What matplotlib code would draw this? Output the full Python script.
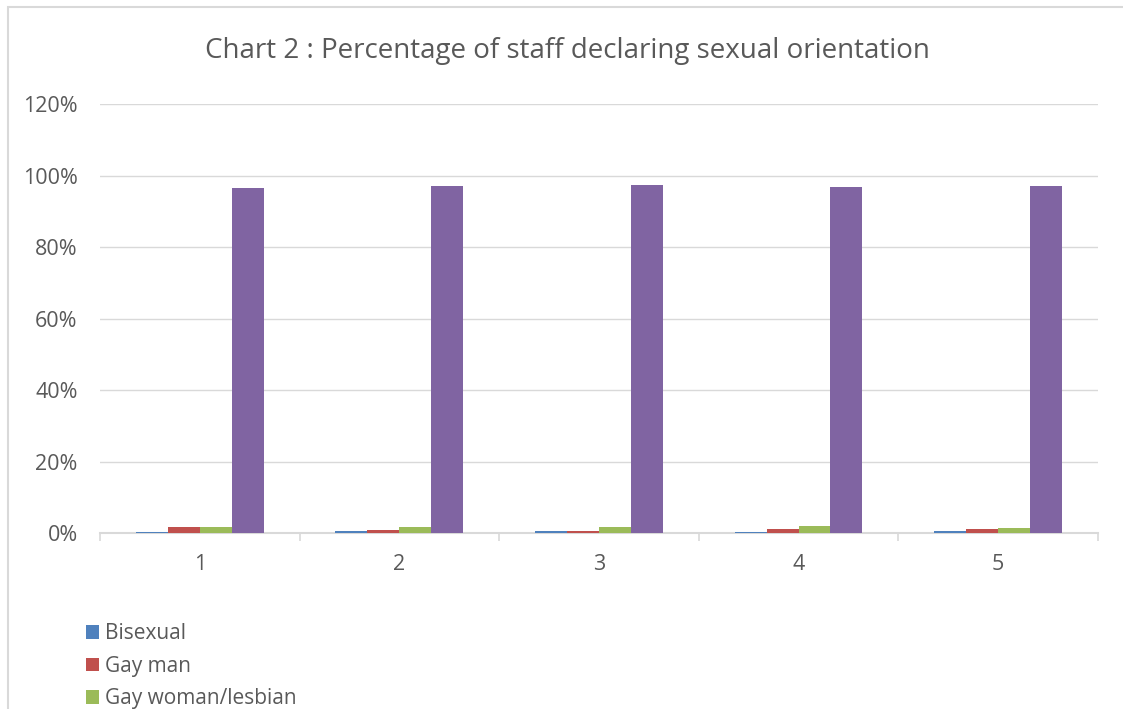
import numpy as np
import matplotlib.pyplot as plt
from matplotlib.patches import Rectangle, Patch

# Share of staff by declared sexual orientation, per year group
years = ['1', '2', '3', '4', '5']
bisexual = [0.2, 0.5, 0.5, 0.4, 0.5]
gay_man = [1.7, 0.8, 0.7, 1.1, 1.0]
gay_woman = [1.7, 1.7, 1.6, 1.9, 1.5]
heterosexual = [96.5, 97.1, 97.3, 96.8, 97.1]

series_names = ['Bisexual', 'Gay man', 'Gay woman/lesbian', 'Heterosexual']
series_values = [bisexual, gay_man, gay_woman, heterosexual]
colors = ['#4f81bd', '#c0504d', '#9bbb59', '#8064a2']

plt.rcParams['font.family'] = ['Open Sans', 'DejaVu Sans']
text_color = '#595959'
grid_color = '#d9d9d9'

fig = plt.figure(figsize=(11.23, 7.09), dpi=100)
ax = fig.add_axes([0.089, 0.2482, 0.8887, 0.6051])

x = np.arange(len(years))
width = 0.16
for i, (name, vals, col) in enumerate(zip(series_names, series_values, colors)):
    ax.bar(x + (i - 1.5) * width, vals, width, color=col, label=name, zorder=3)

ax.set_xlim(-0.5, len(years) - 0.5)
ax.set_ylim(0, 120)
ax.set_yticks(np.arange(0, 121, 20))
ax.set_yticklabels(['{}%'.format(v) for v in range(0, 121, 20)])
ax.set_xticks(x)
ax.set_xticklabels(years)
ax.set_xticks(np.arange(-0.5, len(years)), minor=True)

ax.grid(axis='y', color=grid_color, linewidth=1, zorder=0)
for side in ['top', 'right', 'left']:
    ax.spines[side].set_visible(False)
ax.spines['bottom'].set_color(grid_color)
ax.spines['bottom'].set_linewidth(1.5)

ax.tick_params(axis='y', length=0, pad=16, labelsize=15.5, labelcolor=text_color)
ax.tick_params(axis='x', which='major', length=0, pad=15, labelsize=15.5, labelcolor=text_color)
ax.tick_params(axis='x', which='minor', length=6, width=1.2, color=grid_color)

fig.suptitle('Chart 2 : Percentage of staff declaring sexual orientation',
             x=0.505, y=0.948, fontsize=20, color=text_color)

# Legend below the plot; only the first three entries fit on the page
handles = [Patch(facecolor=c, edgecolor='none') for c in colors[:3]]
fig.legend(handles, series_names[:3], loc='upper left', bbox_to_anchor=(0.0766, 0.121),
           frameon=False, fontsize=15, labelcolor=text_color,
           handlelength=0.62, handleheight=0.62, handletextpad=0.3,
           labelspacing=0.55, borderpad=0, borderaxespad=0)

# Outer chart frame (left and top edges visible)
fig.patches.append(Rectangle((8 / 1123, -0.1), 1.2, 1 - 7 / 709 + 0.1,
                             transform=fig.transFigure, fill=False,
                             edgecolor=grid_color, linewidth=1.5))

fig.savefig('out.png', dpi=100)
